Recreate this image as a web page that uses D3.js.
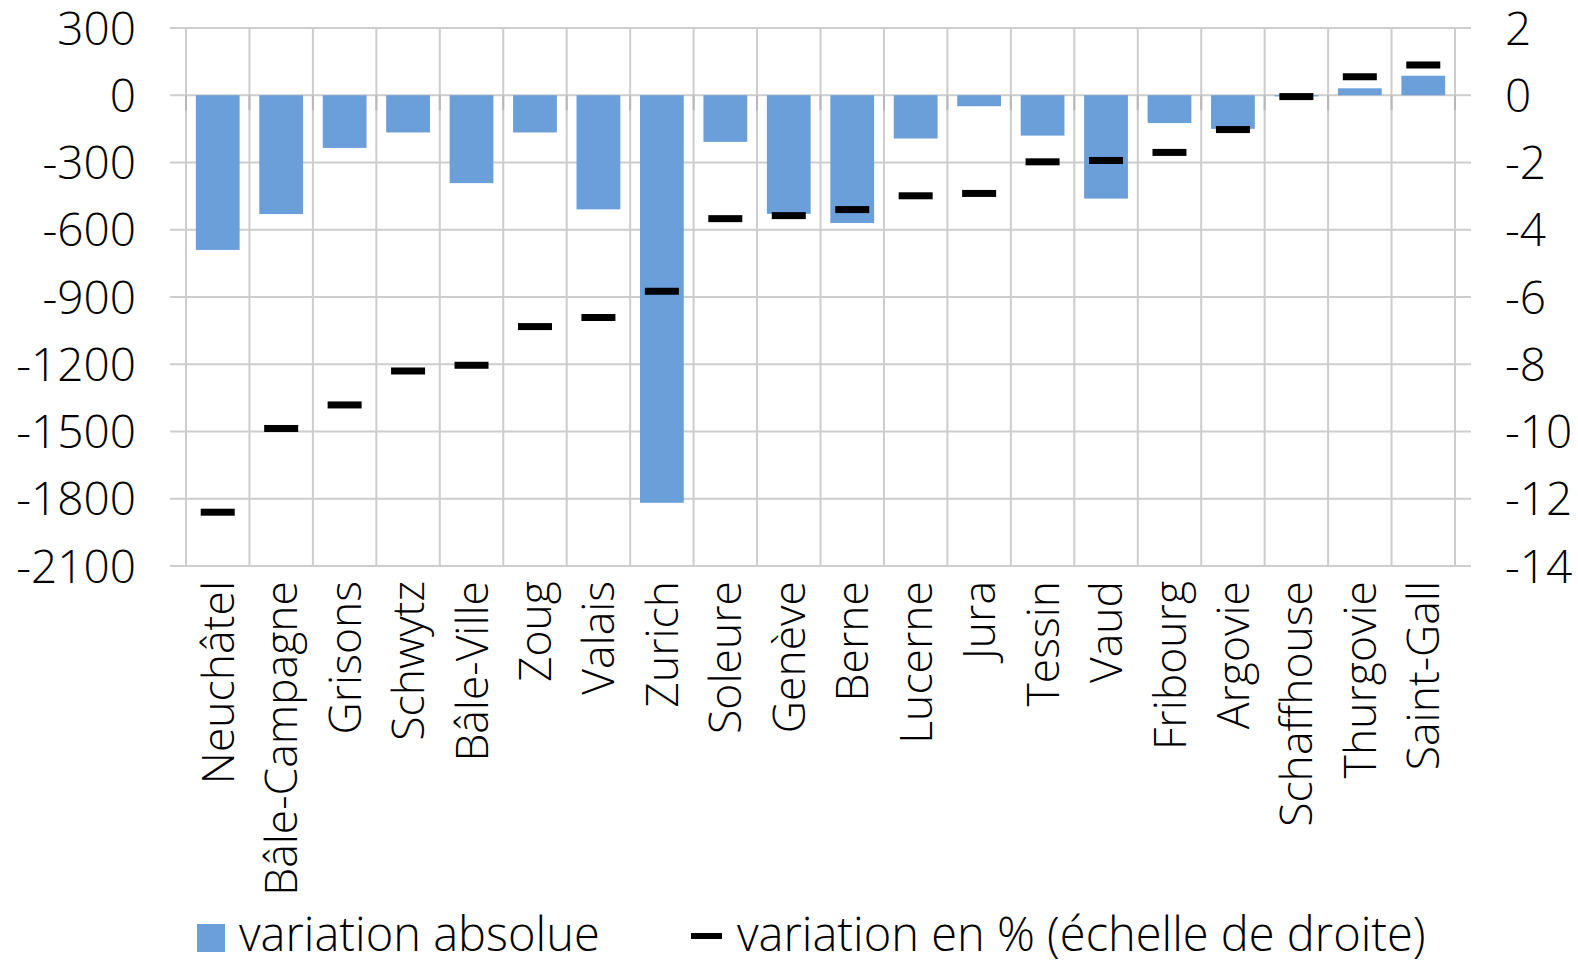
<!DOCTYPE html>
<html>
<head>
<meta charset="utf-8">
<script src="https://cdn.jsdelivr.net/npm/d3@7"></script>
<style>
    body { margin: 0; background: #fff; }
    svg text { font-family: "Open Sans", "Segoe UI", sans-serif; font-weight: 300; fill: #000; }
</style>
</head>
<body>
<svg id="chart" width="1578" height="960"></svg>
<script>
// Data
const cantons = ["Neuchâtel", "Bâle-Campagne", "Grisons", "Schwytz", "Bâle-Ville", "Zoug", "Valais", "Zurich",
    "Soleure", "Genève", "Berne", "Lucerne", "Jura", "Tessin", "Vaud", "Fribourg", "Argovie", "Schaffhouse",
    "Thurgovie", "Saint-Gall"];
const absolute = [-690, -530, -235, -166, -392, -166, -509, -1818,
    -208, -529, -570, -193, -49, -180, -461, -124, -150, -5, 31, 87];
const percent = [-12.4, -9.91, -9.21, -8.2, -8.03, -6.88, -6.61, -5.83,
    -3.67, -3.58, -3.4, -2.99, -2.92, -1.98, -1.94, -1.7, -1.02, -0.04, 0.55, 0.9];
const leftTicks = [300, 0, -300, -600, -900, -1200, -1500, -1800, -2100];
const rightTicks = [2, 0, -2, -4, -6, -8, -10, -12, -14];
const legendLabels = ["variation absolue", "variation en % (échelle de droite)"];

const svg = d3.select("#chart");
const plotLeft = 186, plotRight = 1455, plotTop = 28, plotBottom = 566;
const barColor = "#6a9fda";
const gridColor = "#cdcdcd";

const x = d3.scaleBand().domain(cantons).range([plotLeft, plotRight]).paddingInner(0.31).paddingOuter(0.155);
const yL = d3.scaleLinear().domain([-2100, 300]).range([plotBottom, plotTop]);
const yR = d3.scaleLinear().domain([-14, 2]).range([plotBottom, plotTop]);
const step = x.step();

// horizontal gridlines (extend past plot like tick marks)
svg.append("g").selectAll("line")
    .data(leftTicks)
    .enter()
    .append("line")
    .attr("x1", plotLeft - 16)
    .attr("x2", plotRight + 16)
    .attr("y1", d => yL(d))
    .attr("y2", d => yL(d))
    .attr("stroke", gridColor)
    .attr("stroke-width", 2);

// vertical gridlines at category boundaries
const bounds = d3.range(cantons.length + 1).map(i => plotLeft + i * step);
svg.append("g").selectAll("line")
    .data(bounds)
    .enter()
    .append("line")
    .attr("x1", d => d)
    .attr("x2", d => d)
    .attr("y1", plotTop)
    .attr("y2", plotBottom)
    .attr("stroke", gridColor)
    .attr("stroke-width", 2);

// category ticks below the zero line
svg.append("g").selectAll("line")
    .data(bounds)
    .enter()
    .append("line")
    .attr("x1", d => d)
    .attr("x2", d => d)
    .attr("y1", yL(0))
    .attr("y2", yL(0) + 15)
    .attr("stroke", "#b8b8b8")
    .attr("stroke-width", 2);

// bars
svg.append("g").selectAll("rect")
    .data(cantons)
    .enter()
    .append("rect")
    .attr("x", d => x(d))
    .attr("width", x.bandwidth())
    .attr("y", (d, i) => Math.min(yL(0), yL(absolute[i])))
    .attr("height", (d, i) => Math.abs(yL(absolute[i]) - yL(0)))
    .attr("fill", barColor);

// percent markers
const dashW = 34, dashH = 7;
svg.append("g").selectAll("rect")
    .data(cantons)
    .enter()
    .append("rect")
    .attr("x", d => x(d) + x.bandwidth() / 2 - dashW / 2)
    .attr("y", (d, i) => yR(percent[i]) - dashH / 2)
    .attr("width", dashW)
    .attr("height", dashH)
    .attr("fill", "#000");

// left axis labels
svg.append("g").selectAll("text")
    .data(leftTicks)
    .enter()
    .append("text")
    .attr("x", 136)
    .attr("y", d => yL(d))
    .attr("dy", "0.36em")
    .attr("text-anchor", "end")
    .attr("font-size", 46)
    .text(d => d);

// right axis labels
svg.append("g").selectAll("text")
    .data(rightTicks)
    .enter()
    .append("text")
    .attr("x", 1505)
    .attr("y", d => yR(d))
    .attr("dy", "0.36em")
    .attr("text-anchor", "start")
    .attr("font-size", 46)
    .text(d => d);

// category labels
svg.append("g").selectAll("text")
    .data(cantons)
    .enter()
    .append("text")
    .attr("transform", d => `translate(${x(d) + x.bandwidth() / 2},581) rotate(-90)`)
    .attr("dy", "0.36em")
    .attr("text-anchor", "end")
    .attr("font-size", 44.5)
    .text(d => d);

// legend
const legend = svg.append("g");
legend.append("rect")
    .attr("x", 197).attr("y", 924).attr("width", 28).attr("height", 28)
    .attr("fill", barColor);
legend.append("text")
    .attr("x", 239).attr("y", 951)
    .attr("font-size", 47)
    .text(legendLabels[0]);
legend.append("rect")
    .attr("x", 691).attr("y", 933).attr("width", 31).attr("height", 6)
    .attr("fill", "#000");
legend.append("text")
    .attr("x", 737).attr("y", 951)
    .attr("font-size", 47)
    .text(legendLabels[1]);
</script>
</body>
</html>
